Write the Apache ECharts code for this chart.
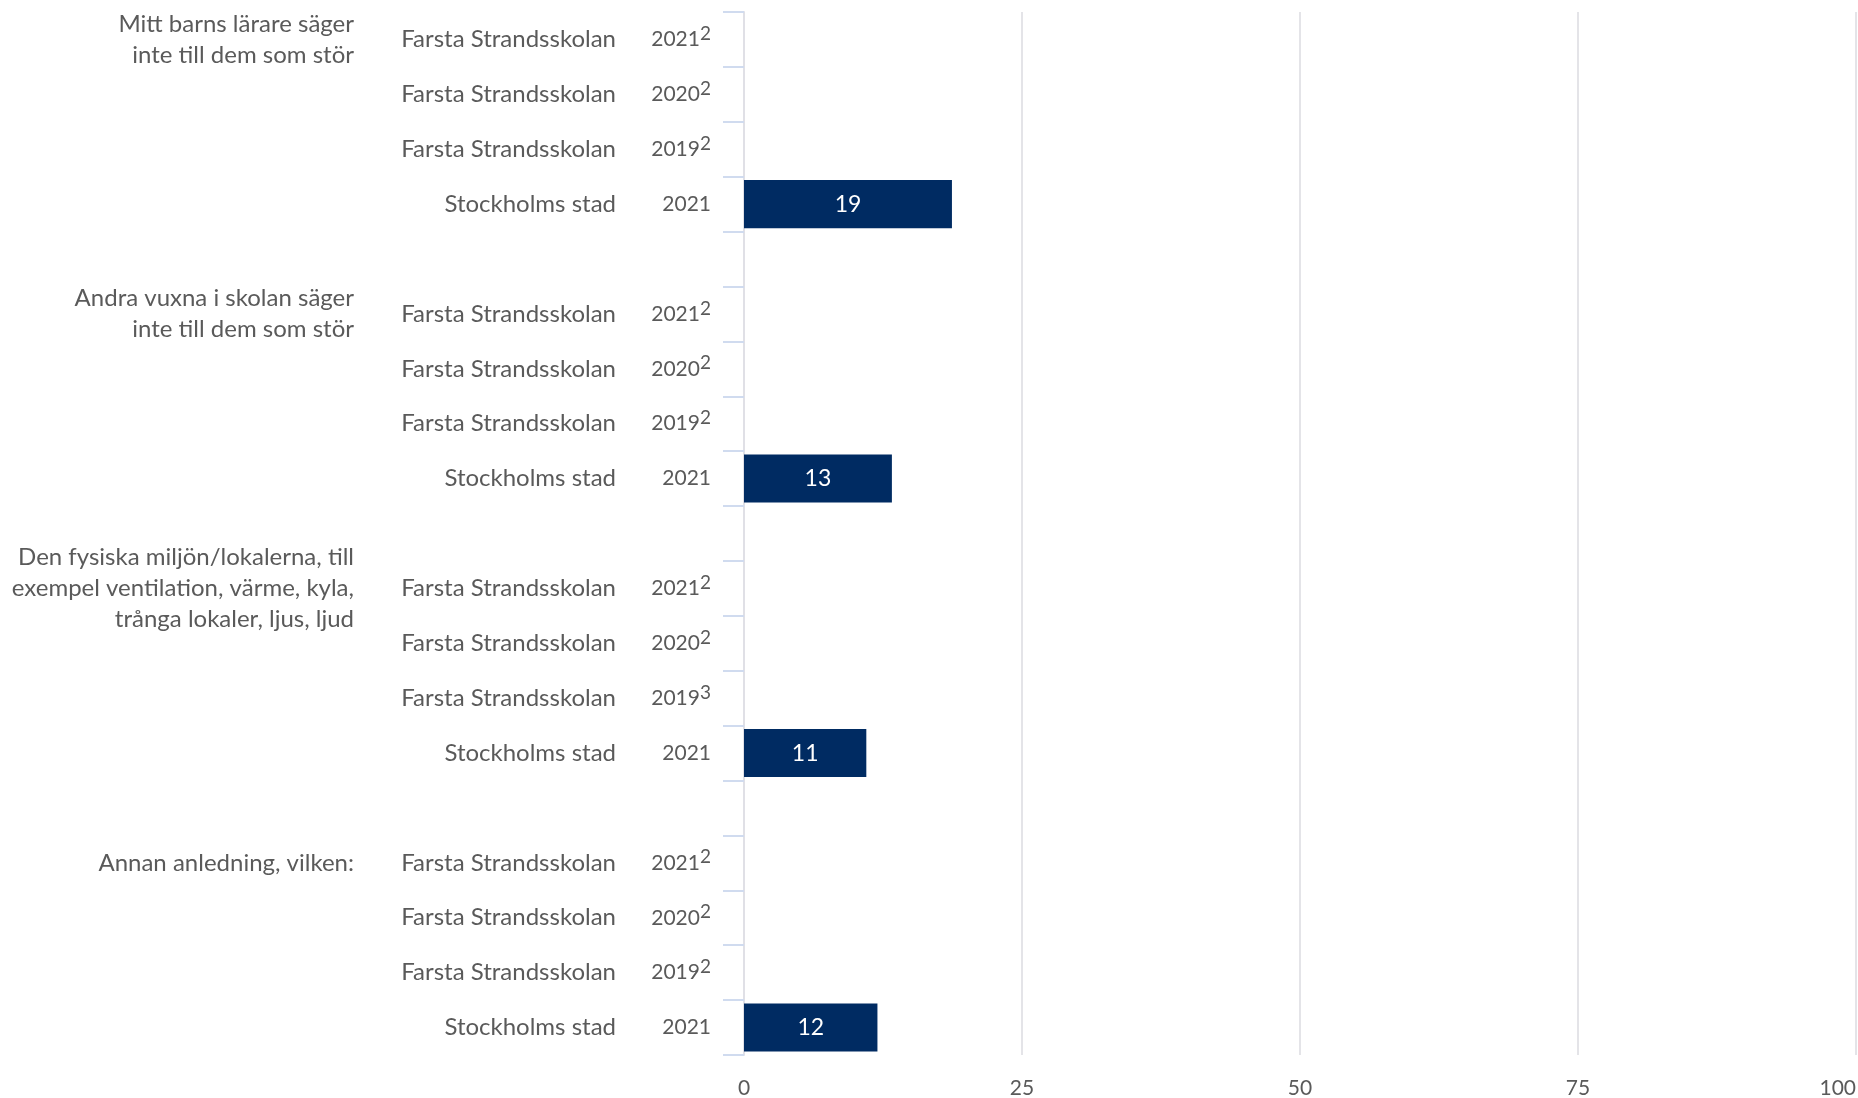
<!DOCTYPE html>
<html>
<head>
<meta charset="utf-8">
<script src="https://cdn.jsdelivr.net/npm/echarts@6/dist/echarts.min.js"></script>
<style>
html,body{margin:0;padding:0;background:#fff;}
#chart{width:1858px;height:1098px;}
</style>
</head>
<body>
<div id="chart"></div>
<script>
// ---- data ----
const groupLabels = [
  'Mitt barns lärare säger\ninte till dem som stör',
  'Andra vuxna i skolan säger\ninte till dem som stör',
  'Den fysiska miljön/lokalerna, till\nexempel ventilation, värme, kyla,\ntrånga lokaler, ljus, ljud',
  'Annan anledning, vilken:'
];
const rowUnits = ['Farsta Strandsskolan', 'Farsta Strandsskolan', 'Farsta Strandsskolan', 'Stockholms stad'];
const rowYears = ['2021', '2020', '2019', '2021'];
const footnotes = [
  ['2', '2', '2', ''],
  ['2', '2', '2', ''],
  ['2', '2', '3', ''],
  ['2', '2', '2', '']
];
const values = [
  [null, null, null, 18.7],
  [null, null, null, 13.3],
  [null, null, null, 11.0],
  [null, null, null, 12.0]
];
const xTicks = [0, 25, 50, 75, 100];

// ---- build categories ----
const cats = [], unitMap = {}, yearMap = {}, groupMap = {}, data = [];
groupLabels.forEach((g, gi) => {
  rowUnits.forEach((u, ri) => {
    const key = 'g' + gi + 'r' + ri;
    cats.push(key);
    unitMap[key] = u;
    yearMap[key] = {y: rowYears[ri], f: footnotes[gi][ri]};
    groupMap[key] = ri === 0 ? g : '';
    data.push(values[gi][ri]);
  });
  if (gi < groupLabels.length - 1) {
    const key = 'gap' + gi;
    cats.push(key);
    unitMap[key] = ''; yearMap[key] = {y: '', f: ''}; groupMap[key] = '';
    data.push(null);
  }
});

const FONT = 'Lato';
const TXT = '#5a5a5a';
const FS = 24;
const NFS = 21;

const chart = echarts.init(document.getElementById('chart'), null, {renderer: 'canvas'});
chart.setOption({
  animation: false,
  textStyle: {fontFamily: FONT},
  grid: {left: 744, right: 2, top: 12, bottom: 43, containLabel: false, outerBoundsMode: 'none'},
  xAxis: {
    type: 'value', min: 0, max: 100, interval: 25,
    axisLine: {show: false}, axisTick: {show: false},
    splitLine: {show: true, lineStyle: {color: '#e4e4e8', width: 2}},
    axisLabel: {
      color: TXT, fontSize: NFS, fontFamily: FONT, margin: 23,
      alignMaxLabel: 'right',
      formatter: v => xTicks.includes(v) ? String(v) : ''
    }
  },
  yAxis: [
    {
      type: 'category', data: cats, inverse: true, position: 'left',
      axisLine: {show: true, lineStyle: {color: '#e0e0e6', width: 2}},
      axisTick: {show: true, length: 21, lineStyle: {color: '#d0dbef', width: 2}},
      axisLabel: {
        margin: 33, interval: 0, align: 'right',
        formatter: k => {
          const o = yearMap[k];
          if (!o.y) return '';
          return o.f ? '{y|' + o.y + '}{s|' + o.f + '}' : '{y|' + o.y + '}';
        },
        rich: {
          y: {color: TXT, fontSize: NFS, fontFamily: FONT, lineHeight: 30},
          s: {color: TXT, fontSize: 19, fontFamily: FONT, verticalAlign: 'top', lineHeight: 30, padding: [0, 0, 16, 0]}
        }
      }
    },
    {
      type: 'category', data: cats, inverse: true, position: 'left', offset: 128,
      axisLine: {show: false}, axisTick: {show: false},
      axisLabel: {
        margin: 0, interval: 0, color: TXT, fontSize: FS, fontFamily: FONT, align: 'right',
        formatter: k => unitMap[k]
      }
    },
    {
      type: 'category', data: cats, inverse: true, position: 'left', offset: 390,
      axisLine: {show: false}, axisTick: {show: false},
      axisLabel: {
        margin: 0, interval: 0, color: TXT, fontSize: FS, fontFamily: FONT, align: 'right',
        lineHeight: 31,
        formatter: k => groupMap[k]
      }
    }
  ],
  series: [{
    type: 'bar', data: data, yAxisIndex: 0,
    barWidth: '87.5%',
    itemStyle: {color: '#002b62'},
    label: {
      show: true, position: 'inside', color: '#ffffff', fontSize: 23, fontFamily: FONT,
      formatter: p => p.value == null ? '' : Math.round(p.value)
    }
  }]
});
</script>
</body>
</html>
